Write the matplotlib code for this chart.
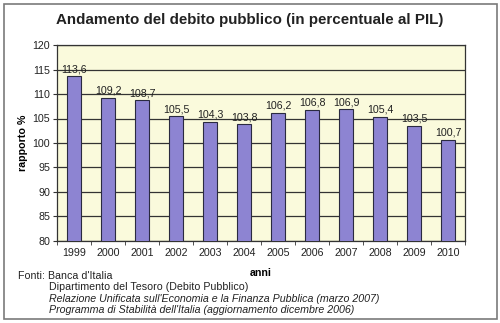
import matplotlib
matplotlib.use("Agg")
import matplotlib.pyplot as plt
from matplotlib.patches import Rectangle
import numpy as np

years = ["1999", "2000", "2001", "2002", "2003", "2004", "2005", "2006", "2007", "2008", "2009", "2010"]
values = [113.6, 109.2, 108.7, 105.5, 104.3, 103.8, 106.2, 106.8, 106.9, 105.4, 103.5, 100.7]
labels = ["113,6", "109,2", "108,7", "105,5", "104,3", "103,8", "106,2", "106,8", "106,9", "105,4", "103,5", "100,7"]
yticks = [80, 85, 90, 95, 100, 105, 110, 115, 120]

plt.rcParams['font.family'] = ['Liberation Sans', 'DejaVu Sans']

W, H = 500, 323
fig = plt.figure(figsize=(5.0, 3.23), dpi=100)
fig.patch.set_facecolor('white')

# outer frame
fig.patches.append(Rectangle((4 / W, 1 - 319 / H), (497 - 4) / W, (319 - 4) / H,
                             transform=fig.transFigure, fill=False,
                             edgecolor='#7a7a7a', linewidth=1.2))

left, right, top, bottom = 57, 465, 45, 241
ax = fig.add_axes([left / W, 1 - bottom / H, (right - left) / W, (bottom - top) / H])
ax.set_facecolor('#fafadc')

x = np.arange(len(years))
ax.bar(x, values, width=0.42, color='#8d84d2', edgecolor='#2a2a40', linewidth=0.8, zorder=3)
for xi, v, lab in zip(x, values, labels):
    ax.text(xi, v + 0.4, lab, ha='center', va='bottom', fontsize=7.7, color='#222222', zorder=4)

ax.set_xlim(-0.5, len(years) - 0.5)
ax.set_ylim(80, 120)
ax.set_yticks(yticks)
ax.set_yticklabels([str(t) for t in yticks], fontsize=7.7, color='#222222')
ax.yaxis.grid(True, color='#333333', linewidth=0.9, zorder=1)
ax.set_axisbelow(True)

ax.set_xticks(x)
ax.set_xticklabels(years, fontsize=7.7, color='#222222')
ax.tick_params(axis='x', length=0, pad=5)
ax.set_xticks(np.arange(-0.5, len(years) + 0.5, 1), minor=True)
ax.tick_params(axis='x', which='minor', length=3, direction='out', color='#333333')
ax.tick_params(axis='y', length=3, direction='out', color='#333333', pad=2)

for s in ax.spines.values():
    s.set_color('#333333')
    s.set_linewidth(0.9)

ax.set_ylabel('rapporto %', fontsize=7.7, fontweight='bold', labelpad=3)
ax.set_xlabel('anni', fontsize=7.7, fontweight='bold', labelpad=7)

fig.text(0.5, 1 - 20 / H, 'Andamento del debito pubblico (in percentuale al PIL)',
         ha='center', va='center', fontsize=10.9, fontweight='bold', color='#222222')

fs = 7.7
fig.text(18 / W, 1 - 276 / H, "Fonti: Banca d'Italia", fontsize=fs, va='center', color='#222222')
fig.text(49 / W, 1 - 287 / H, "Dipartimento del Tesoro (Debito Pubblico)", fontsize=fs, va='center', color='#222222')
fig.text(49 / W, 1 - 299 / H, "Relazione Unificata sull'Economia e la Finanza Pubblica (marzo 2007)",
         fontsize=fs, va='center', style='italic', color='#222222')
fig.text(49 / W, 1 - 310 / H, "Programma di Stabilità dell'Italia (aggiornamento dicembre 2006)",
         fontsize=fs, va='center', style='italic', color='#222222')

fig.savefig('out.png', dpi=100, facecolor='white')
